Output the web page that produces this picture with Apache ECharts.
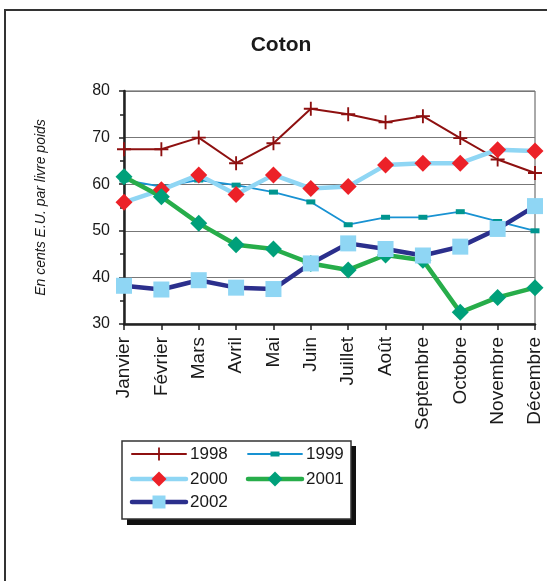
<!DOCTYPE html>
<html>
<head>
<meta charset="utf-8">
<script src="https://cdn.jsdelivr.net/npm/echarts@6/dist/echarts.min.js"></script>
<style>
  html, body { margin: 0; padding: 0; background: #fff; }
  #chart { width: 547px; height: 581px; }
</style>
</head>
<body>
<div id="chart"></div>
<script>
// Monthly cotton prices, US cents per pound
const months = ['Janvier', 'Février', 'Mars', 'Avril', 'Mai', 'Juin', 'Juillet', 'Août', 'Septembre', 'Octobre', 'Novembre', 'Décembre'];
const y1998 = [67.5, 67.5, 70.0, 64.5, 68.8, 76.2, 75.0, 73.3, 74.6, 69.9, 65.3, 62.4];
const y1999 = [60.9, 59.5, 60.9, 59.8, 58.3, 56.2, 51.3, 52.9, 52.9, 54.1, 52.0, 50.0];
const y2000 = [56.1, 58.8, 62.0, 57.8, 62.0, 59.1, 59.5, 64.1, 64.5, 64.5, 67.4, 67.1];
const y2001 = [61.6, 57.3, 51.6, 47.0, 46.1, 43.0, 41.6, 44.8, 43.7, 32.5, 35.7, 37.8];
const y2002 = [38.2, 37.4, 39.4, 37.8, 37.5, 43.0, 47.3, 46.1, 44.7, 46.6, 50.4, 55.3];
const yTicks = [30, 40, 50, 60, 70, 80];
const years = ['1998', '1999', '2000', '2001', '2002'];

const FONT = '"Liberation Sans", Arial, sans-serif';
const plusPath = 'path://M5.2,0 L6.8,0 L6.8,5.2 L12,5.2 L12,6.8 L6.8,6.8 L6.8,12 L5.2,12 L5.2,6.8 L0,6.8 L0,5.2 L5.2,5.2 Z';

// Per-series look: line colour/width, marker shape/size/colour
const styles = {
  '1998': { line: '#8e1010', width: 2, symbol: plusPath, size: 14, fill: '#8e1010', legendSize: 13 },
  '1999': { line: '#1892d2', width: 1.8, symbol: 'rect', size: [9, 5], fill: '#00958f', legendSize: [9, 5] },
  '2000': { line: '#8fd6f4', width: 4.5, symbol: 'diamond', size: 17, fill: '#ec2128', legendSize: 15 },
  '2001': { line: '#27ad4a', width: 4.5, symbol: 'diamond', size: 17, fill: '#00a07a', legendSize: 15 },
  '2002': { line: '#2b2f8c', width: 4.5, symbol: 'rect', size: 16, fill: '#8fd6f4', legendSize: 13 }
};
const seriesData = { '1998': y1998, '1999': y1999, '2000': y2000, '2001': y2001, '2002': y2002 };

const series = years.map(function (name) {
  const s = styles[name];
  return {
    name: name,
    type: 'line',
    data: seriesData[name],
    symbol: s.symbol,
    symbolSize: s.size,
    showAllSymbol: true,
    lineStyle: { color: s.line, width: s.width },
    itemStyle: { color: s.fill, borderWidth: 0 },
    emphasis: { disabled: true },
    animation: false
  };
});

// Legend box drawn as graphic elements: two columns, three rows
const legendCols = [132, 248];
const legendRows = [454, 479, 502];
const legendGraphics = [
  { type: 'rect', shape: { x: 127, y: 446, width: 229, height: 79 },
    style: { fill: '#111' }, z: 1, silent: true },
  { type: 'rect', shape: { x: 122, y: 441, width: 229, height: 78 },
    style: { fill: '#fff', stroke: '#333', lineWidth: 1.5 }, z: 2, silent: true }
];
years.forEach(function (name, i) {
  const s = styles[name];
  const x0 = legendCols[i % 2];
  const y0 = legendRows[Math.floor(i / 2)];
  const sz = Array.isArray(s.legendSize) ? s.legendSize : [s.legendSize, s.legendSize];
  let symbolEl;
  if (s.symbol === 'diamond') {
    symbolEl = { type: 'polygon', shape: { points: [[x0 + 27, y0 - sz[1] / 2], [x0 + 27 + sz[0] / 2, y0], [x0 + 27, y0 + sz[1] / 2], [x0 + 27 - sz[0] / 2, y0]] },
      style: { fill: s.fill }, z: 4, silent: true };
  } else if (s.symbol === 'rect') {
    symbolEl = { type: 'rect', shape: { x: x0 + 27 - sz[0] / 2, y: y0 - sz[1] / 2, width: sz[0], height: sz[1] },
      style: { fill: s.fill }, z: 4, silent: true };
  } else {
    symbolEl = { type: 'group', z: 4, silent: true, children: [
      { type: 'line', shape: { x1: x0 + 27, y1: y0 - sz[1] / 2, x2: x0 + 27, y2: y0 + sz[1] / 2 }, style: { stroke: s.fill, lineWidth: 1.8 }, z: 4 },
      { type: 'line', shape: { x1: x0 + 27 - sz[0] / 2, y1: y0, x2: x0 + 27 + sz[0] / 2, y2: y0 }, style: { stroke: s.fill, lineWidth: 1.8 }, z: 4 }
    ] };
  }
  legendGraphics.push(
    { type: 'line', shape: { x1: x0, y1: y0, x2: x0 + 54, y2: y0 },
      style: { stroke: s.line, lineWidth: s.width, lineCap: 'round' }, z: 3, silent: true },
    symbolEl,
    { type: 'text', x: x0 + 58, y: y0, style: { text: name, font: '17px ' + FONT, fill: '#1a1a1a', verticalAlign: 'middle' }, z: 4, silent: true }
  );
});

const chart = echarts.init(document.getElementById('chart'), null, { renderer: 'canvas' });

chart.setOption({
  backgroundColor: '#fff',
  animation: false,
  title: {
    text: 'Coton',
    left: 276,
    top: 30,
    textAlign: 'center',
    textStyle: { fontFamily: FONT, fontSize: 21, fontWeight: 'bold', color: '#1a1a1a' }
  },
  grid: {
    left: 124, right: 12, top: 91, bottom: 257,
    show: true, borderColor: '#555', borderWidth: 1, backgroundColor: 'transparent'
  },
  xAxis: {
    type: 'category',
    data: months,
    boundaryGap: false,
    axisLine: { lineStyle: { color: '#222', width: 2.5 } },
    axisTick: { show: true, length: 6, alignWithLabel: true, lineStyle: { color: '#222', width: 1.5 } },
    axisLabel: { rotate: 90, margin: 13, fontFamily: FONT, fontSize: 19, color: '#1a1a1a', interval: 0 },
    splitLine: { show: false }
  },
  yAxis: {
    type: 'value',
    min: yTicks[0],
    max: yTicks[yTicks.length - 1],
    interval: 10,
    name: 'En cents E.U. par livre poids',
    nameLocation: 'middle',
    nameGap: 76,
    nameTextStyle: { fontFamily: FONT, fontSize: 14, fontStyle: 'italic', color: '#1a1a1a' },
    axisLine: { show: true, lineStyle: { color: '#222', width: 2.5 } },
    axisTick: { show: true, length: 5, lineStyle: { color: '#222', width: 1.5 } },
    minorTick: { show: true, splitNumber: 2, length: 4, lineStyle: { color: '#222', width: 1.5 } },
    axisLabel: { margin: 14, fontFamily: FONT, fontSize: 16, color: '#1a1a1a' },
    splitLine: { show: true, lineStyle: { color: '#777', width: 1 } }
  },
  graphic: [
    { type: 'rect', shape: { x: 5, y: 10, width: 600, height: 600 },
      style: { fill: 'none', stroke: '#333', lineWidth: 2 }, z: 0, silent: true }
  ].concat(legendGraphics),
  series: series
});
</script>
</body>
</html>
